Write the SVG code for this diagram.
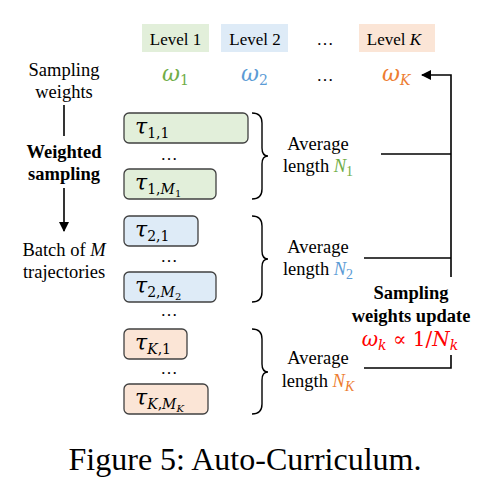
<svg xmlns="http://www.w3.org/2000/svg" width="491" height="493" viewBox="0 0 491 493" font-family="'Liberation Serif', 'Times New Roman', serif">
<style>
text{font-family:'Liberation Serif', 'Times New Roman', serif}
.t{font-size:18.5px;fill:#000}
.b{font-weight:bold}
text.m{font-family:'DejaVu Serif', serif;font-size:22px}
.mi{font-style:italic}
.sub{font-size:14px}
.ss{font-size:10px}
.lvl{font-size:17px;fill:#000;text-anchor:middle}
.box{stroke:#404040;stroke-width:1.3}
.g{fill:#e2efda}.bl{fill:#deebf7}.o{fill:#fbe5d6}
.ln{stroke:#000;stroke-width:1.6;fill:none}
.br{stroke:#000;stroke-width:1.4;fill:none}
.mid{text-anchor:middle}
</style>
<defs>
<marker id="ah" markerWidth="10" markerHeight="10" refX="9" refY="5" orient="auto" markerUnits="userSpaceOnUse">
<path d="M0,0 L10,5 L0,10 Z" fill="#000"/>
</marker>
</defs>

<g id="levels">
<rect class="g" x="142" y="24" width="67" height="28"/>
<text class="lvl" x="175.5" y="45">Level 1</text>
<rect class="bl" x="221" y="24" width="67" height="28"/>
<text class="lvl" x="255" y="45">Level 2</text>
<text class="lvl" x="325" y="45">…</text>
<rect class="o" x="359" y="24" width="76" height="28"/>
<text class="lvl" x="394" y="45">Level <tspan font-style="italic">K</tspan></text>
</g>

<g id="weights">
<text class="m" x="162" y="81" fill="#70ad47"><tspan class="mi">ω</tspan><tspan class="sub" dy="4">1</tspan></text>
<text class="m" x="241" y="81" fill="#5b9bd5"><tspan class="mi">ω</tspan><tspan class="sub" dy="4">2</tspan></text>
<text class="lvl" x="325" y="81">…</text>
<text class="m" x="382" y="81" fill="#ed7d31"><tspan class="mi">ω</tspan><tspan class="sub mi" dy="4">K</tspan></text>
</g>

<g id="left">
<text class="t mid" x="64" y="76">Sampling</text>
<text class="t mid" x="64" y="98">weights</text>
<text class="t b mid" x="64" y="158">Weighted</text>
<text class="t b mid" x="64" y="180">sampling</text>
<text class="t mid" x="64" y="256">Batch of <tspan font-style="italic">M</tspan></text>
<text class="t mid" x="64" y="278">trajectories</text>
</g>

<g id="traj1">
<rect class="box g" x="124" y="113" width="124" height="30" rx="5"/>
<text class="m" x="135" y="134"><tspan class="mi">τ</tspan><tspan class="sub" dy="4">1,1</tspan></text>
<text class="lvl" x="169" y="160">…</text>
<rect class="box g" x="124" y="169" width="92" height="30" rx="5"/>
<text class="m" x="135" y="190"><tspan class="mi">τ</tspan><tspan class="sub" dy="4">1,</tspan><tspan class="sub mi">M</tspan><tspan class="ss" dy="3">1</tspan></text>
</g>

<g id="traj2">
<rect class="box bl" x="124" y="216" width="74" height="30" rx="5"/>
<text class="m" x="135" y="237"><tspan class="mi">τ</tspan><tspan class="sub" dy="4">2,1</tspan></text>
<text class="lvl" x="169" y="262">…</text>
<rect class="box bl" x="124" y="272" width="92" height="30" rx="5"/>
<text class="m" x="135" y="293"><tspan class="mi">τ</tspan><tspan class="sub" dy="4">2,</tspan><tspan class="sub mi">M</tspan><tspan class="ss" dy="3">2</tspan></text>
</g>
<text class="lvl" x="169" y="316">…</text>

<g id="trajK">
<rect class="box o" x="124" y="329" width="63" height="30" rx="5"/>
<text class="m" x="135" y="350"><tspan class="mi">τ</tspan><tspan class="sub mi" dy="4">K</tspan><tspan class="sub">,1</tspan></text>
<text class="lvl" x="169" y="374">…</text>
<rect class="box o" x="124" y="384" width="84" height="30" rx="5"/>
<text class="m" x="135" y="405"><tspan class="mi">τ</tspan><tspan class="sub mi" dy="4">K</tspan><tspan class="sub">,</tspan><tspan class="sub mi">M</tspan><tspan class="ss mi" dy="3">K</tspan></text>
</g>

<g id="avg1">
<path class="br" d="M252,113 Q262,113 262,123 L262,148 Q262,156 268,156 Q262,156 262,164 L262,189 Q262,199 252,199"/>
<text class="t mid" x="318" y="150">Average</text>
<text class="t mid" x="318" y="172">length <tspan font-style="italic" fill="#70ad47">N</tspan><tspan fill="#70ad47" font-size="14" dy="4">1</tspan></text>
</g>
<g id="avg2">
<path class="br" d="M252,216 Q262,216 262,226 L262,251 Q262,259 268,259 Q262,259 262,267 L262,292 Q262,302 252,302"/>
<text class="t mid" x="318" y="253">Average</text>
<text class="t mid" x="318" y="275">length <tspan font-style="italic" fill="#5b9bd5">N</tspan><tspan fill="#5b9bd5" font-size="14" dy="4">2</tspan></text>
</g>
<g id="avgK">
<path class="br" d="M252,329 Q262,329 262,339 L262,364 Q262,372 268,372 Q262,372 262,380 L262,404 Q262,414 252,414"/>
<text class="t mid" x="318" y="364">Average</text>
<text class="t mid" x="318" y="387">length <tspan font-style="italic" fill="#ed7d31">N</tspan><tspan fill="#ed7d31" font-size="14" font-style="italic" dy="4">K</tspan></text>
</g>

<g id="update">
<text class="t b mid" x="411" y="299">Sampling</text>
<text class="t b mid" x="411" y="322">weights update</text>
<text class="m mid" x="410" y="346" fill="#ff0000" style="font-size:20px"><tspan class="mi">ω</tspan><tspan class="sub mi" dy="4">k</tspan><tspan dy="-4"> ∝ 1/</tspan><tspan class="mi">N</tspan><tspan class="sub mi" dy="4">k</tspan></text>
</g>

<g id="connectors">
<line class="ln" x1="64" y1="105" x2="64" y2="136"/>
<line class="ln" x1="64" y1="188" x2="64" y2="231" marker-end="url(#ah)"/>
<line class="ln" x1="381" y1="154" x2="451" y2="154"/>
<line class="ln" x1="364" y1="258" x2="451" y2="258"/>
<polyline class="ln" points="364,368 451,368 451,355"/>
<polyline class="ln" points="451,277 451,75 422,75" marker-end="url(#ah)"/>
</g>

<text x="245" y="470" text-anchor="middle" font-size="32">Figure 5: Auto-Curriculum.</text>
</svg>
